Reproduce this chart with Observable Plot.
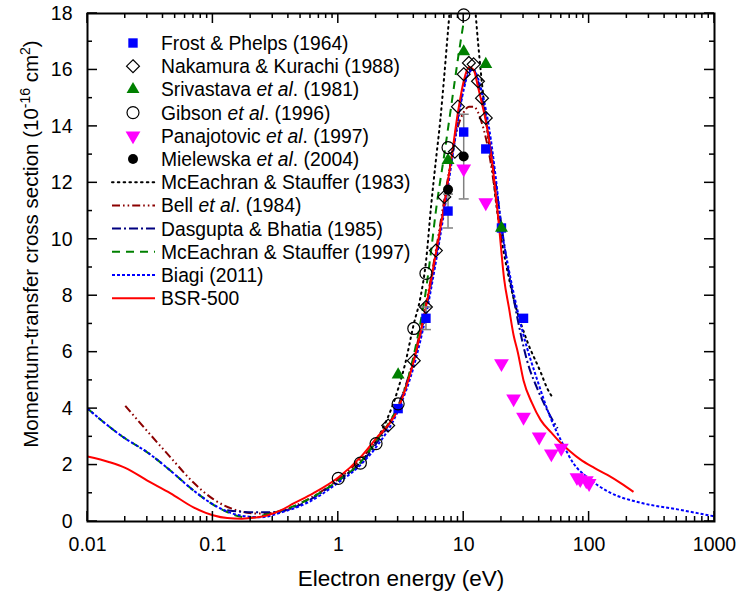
<!DOCTYPE html>
<html><head><meta charset="utf-8">
<script src="https://cdn.jsdelivr.net/npm/d3@7"></script>
<script src="https://cdn.jsdelivr.net/npm/@observablehq/plot@0.6"></script>
<style>
body{margin:0;background:#fff;}
#chart{width:740px;height:592px;}
svg text{font-family:"Liberation Sans",Arial,sans-serif;}
</style></head><body><div id="chart"></div>
<script>
// ---------- data ----------
const frostE = [3, 5, 7.5, 10, 15, 20, 30];
const frostQ = [4.0, 7.2, 11.0, 13.8, 13.2, 10.4, 7.2];
const frostErr = [0, 0.4, 0.6, 0, 0, 0, 0];

const nakE = [2.5, 4, 5, 6, 7, 8.5, 9, 10, 11, 12, 13, 14, 15];
const nakQ = [3.4, 5.7, 7.6, 9.6, 11.5, 13.1, 14.7, 15.85, 16.25, 16.2, 15.6, 15.0, 14.3];

const sriE = [3, 7.5, 10, 15, 20];
const sriQ = [5.2, 12.8, 16.65, 16.2, 10.4];

const gibE = [1, 1.5, 2, 3, 4, 5, 7.5, 10];
const gibQ = [1.53, 2.07, 2.76, 4.17, 6.84, 8.79, 13.25, 17.95];

const panE = [10, 15, 20, 25, 30, 40, 50, 60, 80, 85, 95, 100];
const panQ = [12.5, 11.3, 5.6, 4.35, 3.7, 3.0, 2.4, 2.6, 1.56, 1.49, 1.45, 1.35];

const mieE = [7.5, 10];
const mieQ = [11.76, 12.93];
const mieErr = [0, 1.5];

const mc83E = [1, 1.5, 2, 3, 3.4, 4, 4.5, 5, 5.5, 6, 6.5, 7, 7.5, 8, 9, 10, 11, 12, 13, 14, 15, 16, 17, 18, 20, 22.5, 25, 32, 41, 46, 51];
const mc83Q = [1.5, 2.1, 2.85, 4.7, 5.56, 7.0, 7.9, 9.2, 11.2, 12.8, 14.2, 15.8, 17.4, 18.8, 20.2, 20.6, 20.2, 18.8, 17.0, 15.5, 14.3, 13.3, 12.4, 11.4, 10.0, 8.8, 7.9, 6.4, 5.3, 4.75, 4.4];

const bellE = [0.02, 0.03, 0.046, 0.07, 0.1, 0.157, 0.23, 0.35, 0.5, 1, 2, 3, 4, 5, 6, 7, 8, 9, 10, 11, 12, 13, 14, 15, 16, 18, 20];
const bellQ = [4.1, 3.2, 2.27, 1.38, 0.8, 0.39, 0.28, 0.35, 0.65, 1.5, 2.85, 4.1, 5.8, 7.7, 9.6, 11.4, 12.9, 14.0, 14.5, 14.7, 14.7, 14.5, 14.1, 13.6, 13.0, 11.5, 10.0];

const dasE = [0.13, 0.2, 0.3, 0.5, 1, 1.5, 2, 3, 4, 5, 6, 7, 8, 9, 10, 11, 12, 13, 14, 15, 16, 18, 20, 22.5, 25, 27.4, 32, 38.7, 47.6, 56];
const dasQ = [0.4, 0.33, 0.33, 0.6, 1.45, 2.05, 2.75, 4.1, 5.7, 7.5, 9.4, 11.2, 12.9, 14.3, 15.4, 16.0, 16.0, 15.6, 15.0, 14.3, 13.6, 12.0, 10.5, 9.0, 7.9, 7.0, 5.7, 4.7, 3.85, 3.3];

const mc97E = [0.01, 0.0194, 0.03, 0.046, 0.07, 0.115, 0.19, 0.3, 0.5, 1, 1.5, 2, 2.6, 3.3, 4, 4.5, 5, 5.5, 6, 7, 8, 9, 10];
const mc97Q = [4.0, 2.98, 2.45, 1.8, 1.1, 0.45, 0.14, 0.3, 0.65, 1.45, 2.09, 2.85, 3.58, 4.5, 5.9, 7.0, 8.2, 9.6, 11.0, 13.0, 14.8, 16.4, 17.7];

const biagiE = [0.01, 0.0194, 0.03, 0.046, 0.07, 0.115, 0.166, 0.24, 0.35, 0.57, 1, 1.5, 2, 3, 4, 5, 6, 7, 8, 9, 10, 11, 12, 13, 14, 15, 16, 18, 20, 22.5, 25, 30, 38.7, 50, 61.5, 75, 97, 146, 255, 507, 1000];
const biagiQ = [4.0, 2.98, 2.45, 1.8, 1.1, 0.46, 0.21, 0.15, 0.32, 0.67, 1.38, 2.0, 2.63, 3.93, 5.5, 7.3, 9.2, 11.0, 12.7, 14.2, 15.3, 15.9, 16.0, 15.7, 15.2, 14.6, 13.9, 12.2, 10.4, 9.1, 8.1, 6.6, 5.0, 3.6, 2.76, 2.06, 1.56, 1.03, 0.67, 0.43, 0.18];

const bsrE = [0.01, 0.015, 0.02, 0.03, 0.046, 0.07, 0.1, 0.13, 0.17, 0.22, 0.27, 0.35, 0.44, 0.63, 1, 1.5, 2, 3, 4, 5, 6, 7, 8, 9, 10, 11, 12, 13, 14, 15, 17, 19, 21, 23, 25, 27, 30, 35, 41, 50, 59, 70, 85, 110, 140, 180, 226];
const bsrQ = [2.3, 2.1, 1.9, 1.45, 1.0, 0.5, 0.22, 0.12, 0.1, 0.14, 0.21, 0.4, 0.64, 1.0, 1.56, 2.27, 2.94, 4.0, 5.7, 7.6, 9.5, 11.2, 12.9, 14.5, 15.6, 16.1, 16.0, 15.4, 14.8, 14.2, 12.6, 10.6, 8.6, 7.55, 6.6, 6.0, 5.0, 4.2, 3.6, 3.15, 2.8, 2.5, 2.2, 1.9, 1.65, 1.35, 1.05];

const xMajor = [0.01, 0.1, 1, 10, 100, 1000];
const xMinor = [0.02,0.03,0.04,0.05,0.06,0.07,0.08,0.09,0.2,0.3,0.4,0.5,0.6,0.7,0.8,0.9,2,3,4,5,6,7,8,9,20,30,40,50,60,70,80,90,200,300,400,500,600,700,800,900];
const yMajor = [0, 2, 4, 6, 8, 10, 12, 14, 16, 18];
const yMinor = [1, 3, 5, 7, 9, 11, 13, 15, 17];
const xLabel = "Electron energy (eV)";

// ---------- helpers ----------
const pts = (E, Q, err) => E.map((e, i) => ({E: e, Q: Q[i], err: err ? err[i] : 0}));
const triDown = {draw(ctx, size) {
  const y = Math.sqrt(size / (Math.sqrt(3) * 3));
  ctx.moveTo(0, 2 * y); ctx.lineTo(Math.sqrt(3) * y, -y); ctx.lineTo(-Math.sqrt(3) * y, -y); ctx.closePath();
}};
const capSym = {draw(ctx, size) { ctx.moveTo(-5, 0); ctx.lineTo(5, 0); }};

const errData = [...pts(frostE, frostQ, frostErr), ...pts(mieE, mieQ, mieErr)].filter(d => d.err > 0);
const capData = errData.flatMap(d => [{E: d.E, Q: d.Q - d.err}, {E: d.E, Q: d.Q + d.err}]);

const series = [
  {name: "mc83", data: pts(mc83E, mc83Q), stroke: "#000000", dash: "1.6,4.2", cap: "round"},
  {name: "bell", data: pts(bellE, bellQ), stroke: "#8b0000", dash: "8,3,1.6,3,1.6,3", cap: "butt"},
  {name: "das", data: pts(dasE, dasQ), stroke: "#000080", dash: "9,3,2,3", cap: "butt"},
  {name: "mc97", data: pts(mc97E, mc97Q), stroke: "#008000", dash: "8,6", cap: "butt"},
  {name: "biagi", data: pts(biagiE, biagiQ), stroke: "#0000ff", dash: "3,2", cap: "butt"},
  {name: "bsr", data: pts(bsrE, bsrQ), stroke: "#ff0000", dash: null, cap: "butt"}
];

const lineMarks = series.map(s => Plot.line(s.data, {x: "E", y: "Q", stroke: s.stroke, strokeWidth: 2,
  strokeDasharray: s.dash, strokeLinecap: s.cap, curve: "monotone-x", clip: true}));

const chart = Plot.plot({
  width: 740, height: 592,
  marginLeft: 87, marginRight: 26, marginTop: 13, marginBottom: 71,
  style: {fontFamily: "Liberation Sans, Arial, sans-serif", fontSize: "19px", color: "black", background: "white"},
  x: {type: "log", domain: [0.01, 1000]},
  y: {domain: [0, 18]},
  marks: [
    ...lineMarks,
    Plot.ruleX(errData, {x: "E", y1: d => d.Q - d.err, y2: d => d.Q + d.err, stroke: "#808080", strokeWidth: 1.5}),
    Plot.dot(capData, {x: "E", y: "Q", symbol: capSym, stroke: "#808080", strokeWidth: 1.5, fill: "none"}),
    Plot.dot(pts(frostE, frostQ), {x: "E", y: "Q", symbol: "square", r: 5.3, fill: "#0000ff", stroke: "none"}),
    Plot.dot(pts(nakE, nakQ), {x: "E", y: "Q", symbol: "diamond2", r: 5.8, fill: "none", stroke: "black", strokeWidth: 1.2}),
    Plot.dot(pts(sriE, sriQ), {x: "E", y: "Q", symbol: "triangle", r: 4.8, fill: "#008000", stroke: "none"}),
    Plot.dot(pts(gibE, gibQ), {x: "E", y: "Q", symbol: "circle", r: 6, fill: "none", stroke: "black", strokeWidth: 1.2}),
    Plot.dot(pts(panE, panQ), {x: "E", y: "Q", symbol: triDown, r: 5.5, fill: "#ff00ff", stroke: "none"}),
    Plot.dot(pts(mieE, mieQ), {x: "E", y: "Q", symbol: "circle", r: 5, fill: "black", stroke: "none"}),
    Plot.frame({stroke: "black", strokeWidth: 2}),
    Plot.axisX({anchor: "bottom", ticks: xMajor, tickSize: 0, tickPadding: 16,
      tickFormat: d => String(d), label: null, fontSize: 19.5}),
    Plot.axisY({anchor: "left", ticks: yMajor, tickSize: 0, tickPadding: 15,
      tickFormat: d => String(d), label: null, fontSize: 19.5})
  ]
});
document.getElementById("chart").appendChild(chart);

// ---------- inward ticks via the chart's scales ----------
const svg = d3.select(chart);
const xs = chart.scale("x"), ys = chart.scale("y");
const [xL, xR] = xs.range, [yB, yT] = ys.range;
const tg = svg.append("g").attr("stroke", "black").attr("stroke-width", 1.5);
const addX = (vals, len) => vals.forEach(v => {
  const px = xs.apply(v);
  tg.append("line").attr("x1", px).attr("x2", px).attr("y1", yB).attr("y2", yB - len);
  tg.append("line").attr("x1", px).attr("x2", px).attr("y1", yT).attr("y2", yT + len);
});
const addY = (vals, len) => vals.forEach(v => {
  const py = ys.apply(v);
  tg.append("line").attr("y1", py).attr("y2", py).attr("x1", xL).attr("x2", xL + len);
  tg.append("line").attr("y1", py).attr("y2", py).attr("x1", xR).attr("x2", xR - len);
});
addX(xMajor, 10); addX(xMinor, 5); addY(yMajor, 10); addY(yMinor, 5);

// ---------- labels & legend ----------
const FONT = "Liberation Sans, Arial, sans-serif";
svg.append("text").attr("x", 401).attr("y", 586).attr("text-anchor", "middle")
  .attr("font-size", 22.5).attr("font-family", FONT).attr("fill", "black").text(xLabel);

const yl = svg.append("text").attr("transform", "translate(38,244) rotate(-90)")
  .attr("text-anchor", "middle").attr("font-size", 20.5).attr("font-family", FONT).attr("fill", "black");
yl.append("tspan").text("Momentum-transfer cross section (10");
yl.append("tspan").attr("font-size", 14).attr("dy", -8).text("-16");
yl.append("tspan").attr("dy", 8).text(" cm");
yl.append("tspan").attr("font-size", 14).attr("dy", -8).text("2");
yl.append("tspan").attr("dy", 8).text(")");

const legendItems = [
  {parts: ["Frost & Phelps (1964)"], kind: "sym", sym: d3.symbolSquare, size: 88, fill: "#0000ff", stroke: "none"},
  {parts: ["Nakamura & Kurachi (1988)"], kind: "sym", sym: d3.symbolDiamond2, size: 106, fill: "white", stroke: "black"},
  {parts: ["Srivastava ", ["et al"], ". (1981)"], kind: "sym", sym: d3.symbolTriangle, size: 72, fill: "#008000", stroke: "none"},
  {parts: ["Gibson ", ["et al"], ". (1996)"], kind: "sym", sym: d3.symbolCircle, size: 113, fill: "white", stroke: "black"},
  {parts: ["Panajotovic ", ["et al"], ". (1997)"], kind: "sym", sym: triDown, size: 95, fill: "#ff00ff", stroke: "none"},
  {parts: ["Mielewska ", ["et al"], ". (2004)"], kind: "sym", sym: d3.symbolCircle, size: 78, fill: "black", stroke: "none"},
  {parts: ["McEachran & Stauffer (1983)"], kind: "line", s: series[0]},
  {parts: ["Bell ", ["et al"], ". (1984)"], kind: "line", s: series[1]},
  {parts: ["Dasgupta & Bhatia (1985)"], kind: "line", s: series[2]},
  {parts: ["McEachran & Stauffer (1997)"], kind: "line", s: series[3]},
  {parts: ["Biagi (2011)"], kind: "line", s: series[4]},
  {parts: ["BSR-500"], kind: "line", s: series[5]}
];
const lg = svg.append("g");
legendItems.forEach((it, i) => {
  const y = 43 + i * 23.2;
  if (it.kind === "sym") {
    lg.append("path").attr("transform", `translate(133,${y})`)
      .attr("d", d3.symbol(it.sym, it.size)()).attr("fill", it.fill)
      .attr("stroke", it.stroke).attr("stroke-width", 1.2);
  } else {
    lg.append("line").attr("x1", 112).attr("x2", 155).attr("y1", y).attr("y2", y)
      .attr("stroke", it.s.stroke).attr("stroke-width", 2)
      .attr("stroke-dasharray", it.s.dash).attr("stroke-linecap", it.s.cap);
  }
  const t = lg.append("text").attr("x", 161).attr("y", y).attr("dy", "0.36em")
    .attr("text-anchor", "start")
    .attr("font-size", 19.3).attr("font-family", FONT).attr("fill", "black");
  it.parts.forEach(p => {
    if (Array.isArray(p)) t.append("tspan").attr("font-style", "italic").text(p[0]);
    else t.append("tspan").text(p);
  });
});
</script>
</body></html>
